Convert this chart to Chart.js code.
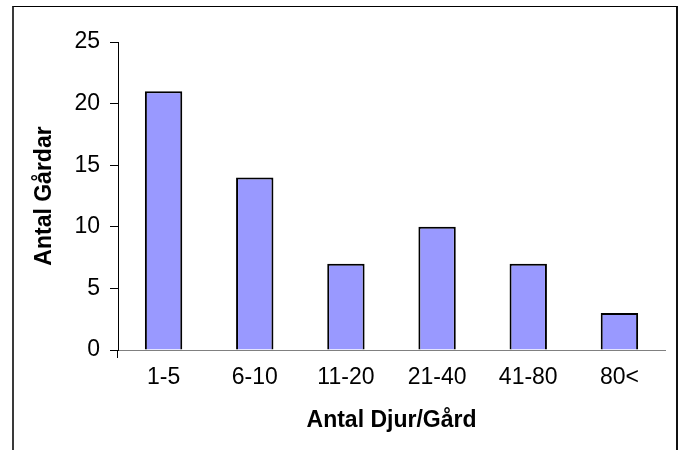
<!DOCTYPE html>
<html>
<head>
<meta charset="utf-8">
<script src="https://cdn.jsdelivr.net/npm/chart.js@4.4.1/dist/chart.umd.min.js"></script>
<style>
  html, body { margin: 0; padding: 0; background: #fff; }
  #wrap { position: relative; width: 681px; height: 450px; overflow: hidden; background: #fff; }
  #c { position: absolute; left: 0; top: 0; }
  #frame { position: absolute; left: 12px; top: 6px; width: 662px; height: 470px;
           border-top: 1px solid #000; border-left: 2px solid #3a3a3a; border-right: 2px solid #111; }
</style>
</head>
<body>
<div id="wrap">
  <canvas id="c" width="681" height="450"></canvas>
  <div id="frame"></div>
</div>
<script>
const categories = ["1-5", "6-10", "11-20", "21-40", "41-80", "80<"];
const farmCounts = [21, 14, 7, 10, 7, 3];
const yTicks = [0, 5, 10, 15, 20, 25];
const xTitle = "Antal Djur/Gård";
const yTitle = "Antal Gårdar";

const FONT = "'Liberation Sans', Arial, sans-serif";

new Chart(document.getElementById('c'), {
  type: 'bar',
  data: {
    labels: categories,
    datasets: [{
      data: farmCounts,
      backgroundColor: '#9999FF',
      borderColor: '#000000',
      borderWidth: 2,
      categoryPercentage: 1.0,
      barPercentage: 0.41
    }]
  },
  options: {
    responsive: false,
    devicePixelRatio: 1,
    animation: false,
    layout: { padding: { left: 27, top: 42, right: 16, bottom: 12 } },
    plugins: { legend: { display: false }, tooltip: { enabled: false } },
    scales: {
      x: {
        offset: true,
        grid: {
          offset: true,
          drawOnChartArea: false,
          drawTicks: true,
          tickLength: 8,
          color: (ctx) => (ctx.index === 0 || ctx.index === categories.length) ? '#000' : 'rgba(0,0,0,0)'
        },
        border: { display: true, color: '#808080', width: 1 },
        ticks: { color: '#000', font: { family: FONT, size: 23 }, padding: 6, maxRotation: 0 },
        title: { display: true, text: xTitle, color: '#000', font: { family: FONT, size: 23, weight: 'bold' } },
        afterFit: (s) => { s.height = 88; }
      },
      y: {
        min: 0,
        max: 25,
        afterBuildTicks: (s) => { s.ticks = yTicks.map(v => ({ value: v })); },
        grid: { drawOnChartArea: false, drawTicks: true, tickLength: 8, color: '#000' },
        border: { display: true, color: '#000', width: 1 },
        ticks: { color: '#000', font: { family: FONT, size: 23 }, padding: 10 },
        title: { display: true, text: yTitle, color: '#000', font: { family: FONT, size: 23, weight: 'bold' } },
        afterFit: (s) => { s.width = 91; }
      }
    }
  }
});
</script>
</body>
</html>
